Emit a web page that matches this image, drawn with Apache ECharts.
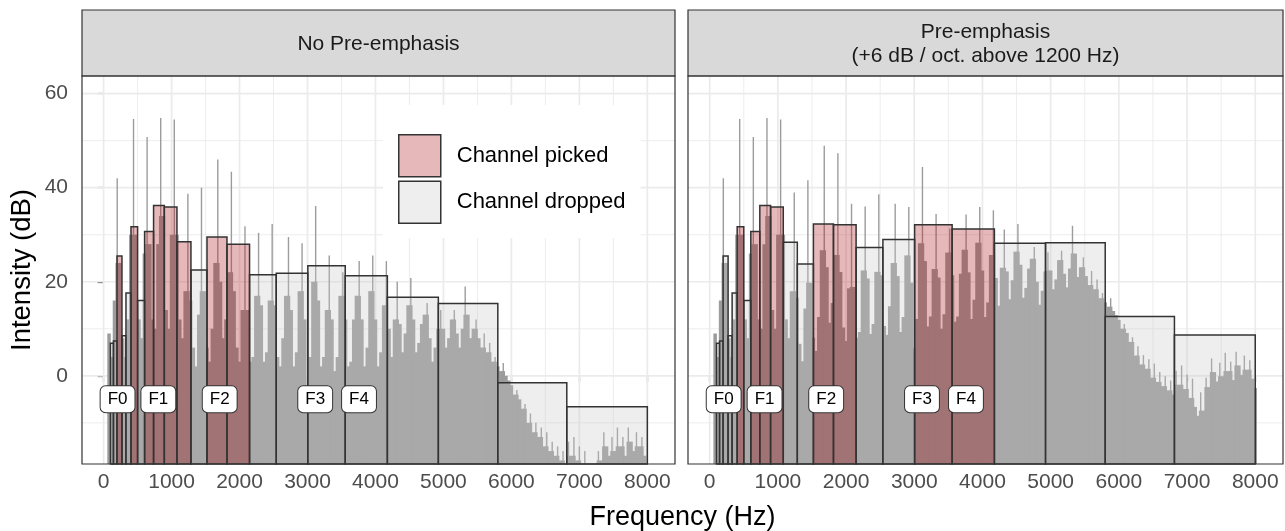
<!DOCTYPE html>
<html>
<head>
<meta charset="utf-8">
<script src="https://cdn.jsdelivr.net/npm/echarts@6/dist/echarts.min.js"></script>
<style>
html,body{margin:0;padding:0;background:#ffffff;}
#chart{width:1285px;height:531px;}
</style>
</head>
<body>
<div id="chart"></div>
<script>
// ---------------- data ----------------
// spectrum sample frequencies (Hz)
const specFreq = [
  80,120,160,200,240,280,320,360,400,440,
  480,520,560,600,640,680,720,760,800,840,
  880,920,960,1000,1040,1080,1120,1160,1200,1240,
  1280,1320,1360,1400,1440,1480,1520,1560,1600,1640,
  1680,1720,1760,1800,1840,1880,1920,1960,2000,2040,
  2080,2120,2160,2200,2240,2280,2320,2360,2400,2440,
  2480,2520,2560,2600,2640,2680,2720,2760,2800,2840,
  2880,2920,2960,3000,3040,3080,3120,3160,3200,3240,
  3280,3320,3360,3400,3440,3480,3520,3560,3600,3640,
  3680,3720,3760,3800,3840,3880,3920,3960,4000,4040,
  4080,4120,4160,4200,4240,4280,4320,4360,4400,4440,
  4480,4520,4560,4600,4640,4680,4720,4760,4800,4840,
  4880,4920,4960,5000,5040,5080,5120,5160,5200,5240,
  5280,5320,5360,5400,5440,5480,5520,5560,5600,5640,
  5680,5720,5760,5800,5840,5880,5920,5960,6000,6040,
  6080,6120,6160,6200,6240,6280,6320,6360,6400,6440,
  6480,6520,6560,6600,6640,6680,6720,6760,6800,6840,
  6880,6920,6960,7000,7040,7080,7120,7160,7200,7240,
  7280,7320,7360,7400,7440,7480,7520,7560,7600,7640,
  7680,7720,7760,7800,7840,7880,7920,7960,8000
];
// spectrum intensity (dB), no pre-emphasis
const specNoPre = [
  9,4,16,42,24,8,4,12,30,54.6,
  30,12,8,26,50.8,28,12,10,28,54.8,
  34,14,10,30,54.5,30,12,8,18,38.7,
  16,6,2,13,40,18,6,3,10,24,
  46,20,8,12,22,43.4,18,6,3,14,
  31.8,14,3,4,17,30.4,15,3,5,16,
  32.3,15,4,2,8,17,29.5,14,2,5,
  18,28.2,12,-2,4,20,36.1,16,2,4,
  14,25.6,12,1,4,17,22,12,2,3,
  12,17,24.4,12,2,6,18,25.6,12,2,
  5,15,24.4,10,4,12,20,11,5,9,
  15,20.8,12,5,7,11,13,15.5,8,3,
  6,10,14,10,6,8,12,14,9,6,
  10,19,13,8,10,12,8,6,9,5,
  7,3,4,2,1,2.7,0,-1,-2,-4,
  -3,-5,-7,-6,-10,-8,-12,-10,-13,-11,
  -15,-12,-16,-14,-17,-15,-18,-16,-19,-14,
  -17,-13,-18,-15,-20,-16,-22,-24,-19,-23,
  -16,-18,-12,-15,-17,-13,-16,-11,-15,-13,
  -17,-11,-14,-16,-12,-15,-13,-17,-19
];
// spectrum intensity (dB), with pre-emphasis (+6 dB / oct. above 1200 Hz)
const specPre = [
  9,4,16,42,24,8,4,12,30,54.6,
  30,12,8,26,50.8,28,12,10,28,54.8,
  34,14,10,30,54.5,30,12,8,18,39,
  16.6,6.8,3.1,14.3,41.6,19.8,8.1,5.3,12.5,26.7,
  48.9,23.1,11.3,15.5,25.7,47.3,22.1,10.3,7.4,18.6,
  36.6,18.9,8.1,9.3,22.4,36,20.7,8.9,11,22.1,
  38.6,21.4,10.6,8.7,14.8,24,36.6,21.2,9.3,12.5,
  25.6,35.9,19.8,5.9,12.1,28.2,44.4,24.4,10.5,12.6,
  22.7,34.4,20.9,10,13.1,26.2,31.3,21.4,11.5,12.6,
  21.7,26.8,34.3,22,12.1,16.2,28.3,35.9,22.4,12.5,
  15.6,25.7,35.2,20.8,14.9,23,31.1,22.2,16.3,20.3,
  26.4,32.3,23.6,16.6,18.7,22.8,24.9,27.4,20,15.1,
  18.1,22.2,26.3,22.4,18.4,20.5,24.6,26.6,21.7,18.8,
  22.8,31.9,26,21,23.1,25.2,21.2,19.3,22.3,18.4,
  20.5,16.5,17.6,15.6,14.7,16.5,13.8,12.9,11.9,10,
  11,9.1,7.2,8.2,4.3,6.3,2.4,4.4,1.5,3.5,
  -0.4,2.6,-1.3,0.8,-2.2,-0.1,-3.1,-1,-4,1.1,
  -1.9,2.2,-2.8,0.3,-4.7,-0.6,-6.6,-8.5,-3.5,-7.4,
  -0.4,-2.4,3.7,0.8,-1.2,2.8,-0.1,4.9,1,3,
  -0.9,5.1,2.2,0.2,4.3,1.3,3.3,-0.6,-2.6
];
// channels (band edges in Hz) and channel intensities (dB)
const chanLow  = [100,145,197,270,329,403,500,603,735,893,1079,1285,1521,1815,2147,2540,3005,3555,4175,4925,5800,6815];
const chanHigh = [145,197,270,329,403,500,603,735,893,1079,1285,1521,1815,2147,2540,3005,3555,4175,4925,5800,6815,8000];
const chanNoPre = [6.9,7.4,25.5,8.5,17.6,31.7,16,30.7,36.2,35.9,28.5,22.5,29.5,28,21.5,21.8,23.4,21.3,16.7,15.4,-1.5,-6.6];
const chanPre   = [6.9,7.4,25.5,8.5,17.6,31.7,16,30.7,36.2,35.9,28.4,23.8,32.3,32.1,27.3,29.0,32.1,31.2,28.2,28.3,12.6,8.7];
const pickedNoPre = [0,0,1,0,0,1,0,1,1,1,1,0,1,1,0,0,0,0,0,0,0,0];
const pickedPre   = [0,0,0,0,0,1,0,1,1,1,0,0,1,1,0,0,1,1,0,0,0,0];
// formant labels
const formantNames = ['F0','F1','F2','F3','F4'];
const formantFreq  = [205,805,1708,3113,3758];
const formantY     = [-5,-5,-5,-5,-5];
// ticks / grid
const xTicks = [0,1000,2000,3000,4000,5000,6000,7000,8000];
const xMinor = [500,1500,2500,3500,4500,5500,6500,7500];
const yTicks = [0,20,40,60];
const yMinor = [-10,10,30,50];
const panelTitles = ['No Pre-emphasis','Pre-emphasis\n(+6 dB / oct. above 1200 Hz)'];
const legendNames = ['Channel picked','Channel dropped'];

// ---------------- styling ----------------
const FONT = "'Liberation Sans', Arial, Helvetica, sans-serif";
const PICK = 'rgba(171,20,27,0.3)';
const DROP = 'rgba(200,200,200,0.3)';
const SPEC = '#9C9C9C';
const X_MIN = -318, X_MAX = 8407, Y_MIN = -18.75, Y_MAX = 63.75;
const P = [
  {left: 82, top: 76, width: 593, height: 388},
  {left: 688, top: 76, width: 595, height: 388}
];
const STRIP_TOP = 10;

const chart = echarts.init(document.getElementById('chart'), null, {renderer: 'canvas'});

function gridRender(params, api) {
  const cs = params.coordSys;
  const kind = api.value(0), v = api.value(1), major = api.value(2);
  let shape;
  if (kind === 0) {
    const x = api.coord([v, 0])[0];
    shape = {x1: x, y1: cs.y, x2: x, y2: cs.y + cs.height};
  } else {
    const y = api.coord([0, v])[1];
    shape = {x1: cs.x, y1: y, x2: cs.x + cs.width, y2: y};
  }
  return {type: 'line', shape: shape, style: {stroke: '#EBEBEB', lineWidth: major ? 1.7 : 0.9}};
}
// each spectrum sample: a full-width column up to the level of its neighbours,
// and a thin line for the part that sticks out above them (narrow harmonic peaks)
function specRender(params, api) {
  const cs = params.coordSys;
  const idx = params.dataIndexInside, n = params.dataInsideLength;
  const f = api.value(0), v = api.value(1);
  const vl = idx > 0 ? api.value(1, idx - 1) : v;
  const vr = idx < n - 1 ? api.value(1, idx + 1) : v;
  const base = Math.min(v, Math.max(vl, vr));
  const bottom = cs.y + cs.height;
  const a = api.coord([f - 20, base]);
  const b = api.coord([f + 20, base]);
  const c = api.coord([f, v]);
  const children = [];
  if (a[1] < bottom) {
    children.push({type: 'rect', shape: {x: a[0] - 0.4, y: a[1], width: b[0] - a[0] + 0.8, height: bottom - a[1]},
      style: {fill: SPEC}});
  }
  if (c[1] < bottom && v > base) {
    children.push({type: 'rect', shape: {x: c[0] - 0.7, y: c[1], width: 1.4, height: bottom - c[1]},
      style: {fill: SPEC}});
  }
  return {type: 'group', children: children};
}
function makeBarRender(fill) {
  return function (params, api) {
    const cs = params.coordSys;
    const p0 = api.coord([api.value(0), api.value(2)]);
    const p1 = api.coord([api.value(1), api.value(2)]);
    const bottom = cs.y + cs.height;
    return {type: 'rect', shape: {x: p0[0], y: p0[1], width: p1[0] - p0[0], height: bottom - p0[1]},
            style: {fill: fill, stroke: '#333333', lineWidth: 1.5}};
  };
}
function labelRender(params, api) {
  const p = api.coord([api.value(0), api.value(1)]);
  return {type: 'text', x: p[0], y: p[1],
    style: {text: formantNames[params.dataIndex], fontSize: 17, fontFamily: FONT, fill: '#000',
      align: 'center', verticalAlign: 'middle', backgroundColor: '#fff', borderColor: '#333',
      borderWidth: 1, borderRadius: 5, padding: [5, 7, 4, 7], lineHeight: 17}};
}

const gridData = [].concat(
  xTicks.map(v => [0, v, 1]), xMinor.map(v => [0, v, 0]),
  yTicks.map(v => [1, v, 1]), yMinor.map(v => [1, v, 0]));

const series = [];
[0, 1].forEach(function (k) {
  const spec = k === 0 ? specNoPre : specPre;
  const chan = k === 0 ? chanNoPre : chanPre;
  const picked = k === 0 ? pickedNoPre : pickedPre;
  series.push({type: 'custom', name: 'grid' + k, xAxisIndex: k, yAxisIndex: k, z: 1, silent: true,
    renderItem: gridRender, data: gridData});
  series.push({type: 'custom', name: 'spectrum' + k, xAxisIndex: k, yAxisIndex: k, z: 2, silent: true,
    renderItem: specRender, clip: true, data: specFreq.map((f, i) => [f, spec[i]])});
  const rows = chanLow.map((lo, i) => [lo, chanHigh[i], chan[i], picked[i]]);
  series.push({type: 'custom', name: legendNames[1], xAxisIndex: k, yAxisIndex: k, z: 3,
    itemStyle: {color: DROP}, renderItem: makeBarRender(DROP), encode: {x: [0, 1], y: 2},
    data: rows.filter(r => !r[3])});
  series.push({type: 'custom', name: legendNames[0], xAxisIndex: k, yAxisIndex: k, z: 3,
    itemStyle: {color: PICK}, renderItem: makeBarRender(PICK), encode: {x: [0, 1], y: 2},
    data: rows.filter(r => r[3])});
  series.push({type: 'custom', name: 'formants' + k, xAxisIndex: k, yAxisIndex: k, z: 5, silent: true,
    renderItem: labelRender, data: formantFreq.map((f, i) => [f, formantY[i]])});
});

const graphics = [];
[0, 1].forEach(function (k) {
  const g = P[k];
  graphics.push({type: 'rect', z: 10, shape: {x: g.left, y: STRIP_TOP, width: g.width, height: g.top - STRIP_TOP},
    style: {fill: '#D9D9D9', stroke: '#333333', lineWidth: 1.2}});
  graphics.push({type: 'text', z: 11, x: g.left + g.width / 2, y: (STRIP_TOP + g.top) / 2 + 1,
    style: {text: panelTitles[k], fontSize: 21, fontFamily: FONT, fill: '#1A1A1A', align: 'center',
      verticalAlign: 'middle', lineHeight: 24}});
  graphics.push({type: 'rect', z: 10, shape: {x: g.left, y: g.top, width: g.width, height: g.height},
    style: {fill: 'none', stroke: '#333333', lineWidth: 1.2}});
});
graphics.push({type: 'text', z: 11, x: (P[0].left + P[1].left + P[1].width) / 2, y: 518,
  style: {text: 'Frequency (Hz)', fontSize: 27, fontFamily: FONT, fill: '#000', align: 'center', verticalAlign: 'middle'}});
graphics.push({type: 'text', z: 11, x: 22, y: P[0].top + P[0].height / 2, rotation: Math.PI / 2,
  style: {text: 'Intensity (dB)', fontSize: 27.5, fontFamily: FONT, fill: '#000', align: 'center', verticalAlign: 'middle'}});

function plain(v) { return String(v); }
function xAxis(k) {
  return {type: 'value', gridIndex: k, min: X_MIN, max: X_MAX,
    axisLine: {show: false}, splitLine: {show: false},
    axisTick: {show: true, customValues: xTicks, length: 6, lineStyle: {color: '#333333', width: 1.2}},
    axisLabel: {show: true, customValues: xTicks, formatter: plain, color: '#4D4D4D', fontSize: 21, fontFamily: FONT, margin: 8}};
}
function yAxis(k) {
  return {type: 'value', gridIndex: k, min: Y_MIN, max: Y_MAX,
    axisLine: {show: false}, splitLine: {show: false},
    axisTick: {show: k === 0, customValues: yTicks, length: 6, lineStyle: {color: '#333333', width: 1.2}},
    axisLabel: {show: k === 0, customValues: yTicks, formatter: plain, color: '#4D4D4D', fontSize: 21, fontFamily: FONT, margin: 14}};
}

chart.setOption({
  animation: false,
  backgroundColor: '#ffffff',
  grid: P.map(g => ({left: g.left, top: g.top, width: g.width, height: g.height, containLabel: false})),
  xAxis: [xAxis(0), xAxis(1)],
  yAxis: [yAxis(0), yAxis(1)],
  legend: {
    z: 20, orient: 'vertical', left: 383, top: 105, itemWidth: 42, itemHeight: 42, itemGap: 3,
    padding: [29, 15, 14, 15], backgroundColor: '#ffffff', selectedMode: false,
    textStyle: {fontSize: 22, color: '#000', fontFamily: FONT, padding: [0, 0, 0, 11]},
    data: [
      {name: legendNames[0], icon: 'rect', itemStyle: {color: PICK, borderColor: '#333333', borderWidth: 1.5}},
      {name: legendNames[1], icon: 'rect', itemStyle: {color: DROP, borderColor: '#333333', borderWidth: 1.5}}
    ]
  },
  graphic: {elements: graphics},
  series: series
});
</script>
</body>
</html>
